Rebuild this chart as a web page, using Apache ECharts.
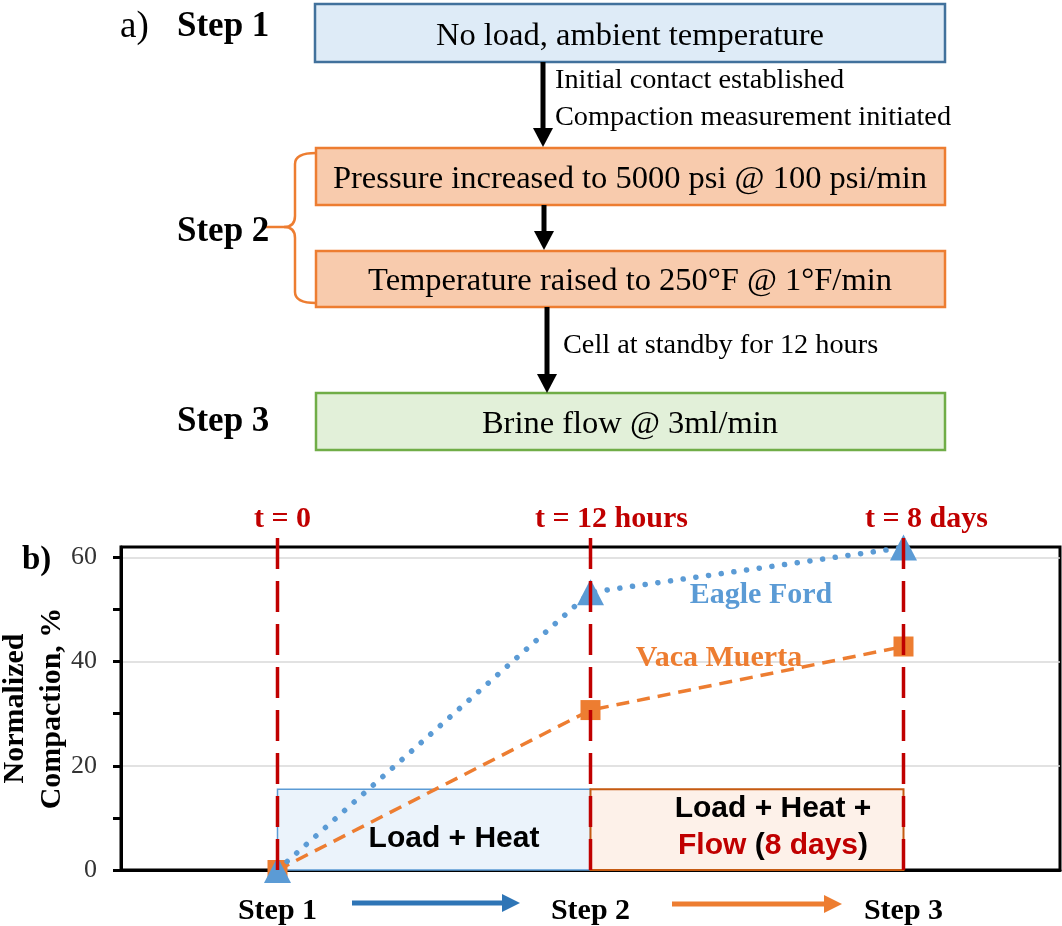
<!DOCTYPE html>
<html><head><meta charset="utf-8">
<script src="https://cdn.jsdelivr.net/npm/echarts@6/dist/echarts.min.js"></script>
<style>html,body{margin:0;padding:0;background:#fff}#c{width:1062px;height:926px}</style>
</head><body><div id="c"></div>
<script>
// ---------- data ----------
const categories = ['Step 1', 'Step 2', 'Step 3'];
const eagleFord = [0, 53.3, 61.9];
const vacaMuerta = [0, 30.7, 42.9];
const timeLabels = ['t = 0', 't = 12 hours', 't = 8 days'];
const yTickValues = [0, 10, 20, 30, 40, 50, 60];
const yLabelValues = [0, 20, 40, 60];
const gridValues = [20, 40, 60];
const stageBoxTop = 15.5;
const timeLineTop = 65.2;
const stage1Text = 'Load + Heat';
const stage2Line1 = 'Load + Heat +';
const stage2Flow = 'Flow';
const stage2Days = '8 days';
const seriesNames = ['Eagle Ford', 'Vaca Muerta'];
const yAxisName = 'Normalized\nCompaction, %';
const flowSteps = ['Step 1', 'Step 2', 'Step 3'];
const flowBoxes = ['No load, ambient temperature', 'Pressure increased to 5000 psi @ 100 psi/min', 'Temperature raised to 250°F @ 1°F/min', 'Brine flow @ 3ml/min'];
const flowNotes = ['Initial contact established', 'Compaction measurement initiated', 'Cell at standby for 12 hours'];

// ---------- style ----------
const SERIF = '"Liberation Serif", "Times New Roman", serif';
const SANS = '"Liberation Sans", Arial, sans-serif';
const RED = '#C00000', BLUE = '#5B9BD5', ORANGE = '#ED7D31';
const timeLabelOffsets = [5, 21, 23];

const chart = echarts.init(document.getElementById('c'), null, {renderer: 'canvas'});

function txt(text, x, y, size, opts) {
  opts = opts || {};
  return {type: 'text', z: 10, style: {text: text, x: x, y: y, fontSize: size, fontFamily: SERIF,
    fontWeight: opts.bold ? 'bold' : 'normal', fill: opts.fill || '#000', align: opts.align || 'left', verticalAlign: 'middle'}};
}
function box(x, y, w, h, fill, stroke) {
  return {type: 'rect', z: 5, shape: {x: x, y: y, width: w, height: h}, style: {fill: fill, stroke: stroke, lineWidth: 2.5}};
}
function seg(x1, y1, x2, y2, color, w) {
  return {type: 'line', z: 6, shape: {x1: x1, y1: y1, x2: x2, y2: y2}, style: {stroke: color, lineWidth: w}};
}
function curve(x1, y1, cx, cy, x2, y2, color, w) {
  return {type: 'bezierCurve', z: 6, shape: {x1: x1, y1: y1, cpx1: cx, cpy1: cy, x2: x2, y2: y2}, style: {stroke: color, lineWidth: w, fill: null}};
}
function vArrow(x, y1, y2, color) {
  return [
    seg(x, y1, x, y2 - 17, color, 5),
    {type: 'polygon', z: 6, shape: {points: [[x - 10, y2 - 19], [x + 10, y2 - 19], [x, y2]]}, style: {fill: color}}
  ];
}
function hArrow(x1, x2, y, color) {
  return [
    seg(x1, y, x2 - 16, y, color, 5),
    {type: 'polygon', z: 6, shape: {points: [[x2 - 18, y - 9], [x2 - 18, y + 9], [x2, y]]}, style: {fill: color}}
  ];
}

const graphics = [].concat(
  [txt('a)', 120, 27, 37),
   txt(flowSteps[0], 177, 27, 35, {bold: true}),
   txt(flowSteps[1], 177, 232, 35, {bold: true}),
   txt(flowSteps[2], 177, 422, 35, {bold: true}),
   box(315, 4, 630, 58, '#DEEBF7', '#41719C'),
   box(316, 148, 629, 57, '#F8CBAD', ORANGE),
   box(316, 251, 629, 56, '#F8CBAD', ORANGE),
   box(316, 393, 629, 57, '#E2F0D9', '#70AD47'),
   txt(flowBoxes[0], 630, 36, 32.5, {align: 'center'}),
   txt(flowBoxes[1], 630, 179, 32.5, {align: 'center'}),
   txt(flowBoxes[2], 630, 281, 32.5, {align: 'center'}),
   txt(flowBoxes[3], 630, 424, 32.5, {align: 'center'}),
   txt(flowNotes[0], 555, 81, 28.3),
   txt(flowNotes[1], 555, 118, 28.3),
   txt(flowNotes[2], 563, 346, 28.3),
   curve(316, 153, 295, 153, 295, 164, ORANGE, 2.5),
   seg(295, 164, 295, 216, ORANGE, 2.5),
   curve(295, 216, 295, 227, 284, 227, ORANGE, 2.5),
   seg(284, 227, 265, 227, ORANGE, 2.5),
   curve(284, 227, 295, 227, 295, 238, ORANGE, 2.5),
   seg(295, 238, 295, 292, ORANGE, 2.5),
   curve(295, 292, 295, 303, 316, 303, ORANGE, 2.5),
   txt('b)', 22, 560, 33, {bold: true}),
   txt(seriesNames[0], 761, 595, 30, {bold: true, fill: BLUE, align: 'center'}),
   txt(seriesNames[1], 719, 658, 30, {bold: true, fill: ORANGE, align: 'center'})
  ],
  vArrow(543, 62, 147, '#000'),
  vArrow(544, 205, 250, '#000'),
  vArrow(547, 307, 393, '#000'),
  hArrow(352, 520, 903, '#2E75B6'),
  hArrow(672, 842, 904, ORANGE)
);

const timeSeries = categories.map(function (c, i) {
  return {
    type: 'line', name: 'time' + i, z: 5, clip: false, silent: true, animation: false,
    symbol: 'circle', symbolSize: 1, itemStyle: {color: 'rgba(0,0,0,0)'},
    lineStyle: {color: RED, width: 3.5, type: [31, 12]},
    data: [[c, 0], {value: [c, timeLineTop], label: {show: true, position: 'top', distance: -4,
      offset: [timeLabelOffsets[i], 0], formatter: timeLabels[i], color: RED,
      fontFamily: SERIF, fontWeight: 'bold', fontSize: 30}}]
  };
});

const option = {
  animation: false,
  backgroundColor: '#fff',
  grid: {left: 121, right: 2, top: 547, bottom: 56, show: true, borderColor: '#000', borderWidth: 3,
    backgroundColor: 'transparent', containLabel: false, outerBoundsMode: 'none'},
  xAxis: {
    type: 'category', data: categories, boundaryGap: true,
    axisLine: {show: true, lineStyle: {color: '#000', width: 3}},
    axisTick: {show: false},
    axisLabel: {color: '#000', fontFamily: SERIF, fontWeight: 'bold', fontSize: 30, margin: 26},
    splitLine: {show: false}
  },
  yAxis: {
    type: 'value', min: 0, max: 62,
    name: yAxisName, nameLocation: 'middle', nameGap: 50, nameMoveOverlap: false,
    nameTextStyle: {color: '#000', fontFamily: SERIF, fontWeight: 'bold', fontSize: 30, lineHeight: 37},
    axisLine: {show: true, lineStyle: {color: '#000', width: 3}},
    axisTick: {show: true, length: 8, customValues: yTickValues, lineStyle: {color: '#000', width: 3}},
    axisLabel: {customValues: yLabelValues, color: '#333', fontFamily: SERIF, fontSize: 26, margin: 24},
    splitLine: {show: false}
  },
  graphic: graphics,
  series: [
    {
      type: 'line', name: seriesNames[1], z: 3, clip: false, silent: true,
      data: vacaMuerta,
      symbol: 'rect', symbolSize: 20,
      itemStyle: {color: ORANGE},
      lineStyle: {color: ORANGE, width: 3.5, type: [13, 8]},
      markLine: {
        silent: true, z: 0, symbol: 'none', label: {show: false},
        lineStyle: {color: '#D9D9D9', width: 1.5, type: 'solid'},
        data: gridValues.map(function (v) { return {yAxis: v}; })
      },
      markArea: {
        silent: true, z: 1,
        data: [
          [{coord: [categories[0], 0],
            itemStyle: {color: '#EBF3FB', borderColor: BLUE, borderWidth: 1.5},
            label: {show: true, position: 'inside', offset: [20, 9], formatter: stage1Text,
              color: '#000', fontFamily: SANS, fontWeight: 'bold', fontSize: 30}},
           {coord: [categories[1], stageBoxTop]}],
          [{coord: [categories[1], 0],
            itemStyle: {color: '#FDF1E9', borderColor: '#C55A11', borderWidth: 2},
            label: {show: true, position: 'inside', offset: [26, -2],
              formatter: '{k|' + stage2Line1 + '}\n{r|' + stage2Flow + '}{k| (}{r|' + stage2Days + '}{k|)}',
              lineHeight: 37,
              rich: {
                k: {color: '#000', fontFamily: SANS, fontWeight: 'bold', fontSize: 30, lineHeight: 37},
                r: {color: RED, fontFamily: SANS, fontWeight: 'bold', fontSize: 30, lineHeight: 37}
              }}},
           {coord: [categories[2], stageBoxTop]}]
        ]
      }
    },
    {
      type: 'line', name: seriesNames[0], z: 4, clip: false, silent: true,
      data: eagleFord,
      symbol: 'triangle', symbolSize: [27, 26],
      itemStyle: {color: BLUE},
      lineStyle: {color: BLUE, width: 5.5, type: [0.1, 12.7], cap: 'round'}
    }
  ].concat(timeSeries)
};
chart.setOption(option);
</script>
</body></html>
